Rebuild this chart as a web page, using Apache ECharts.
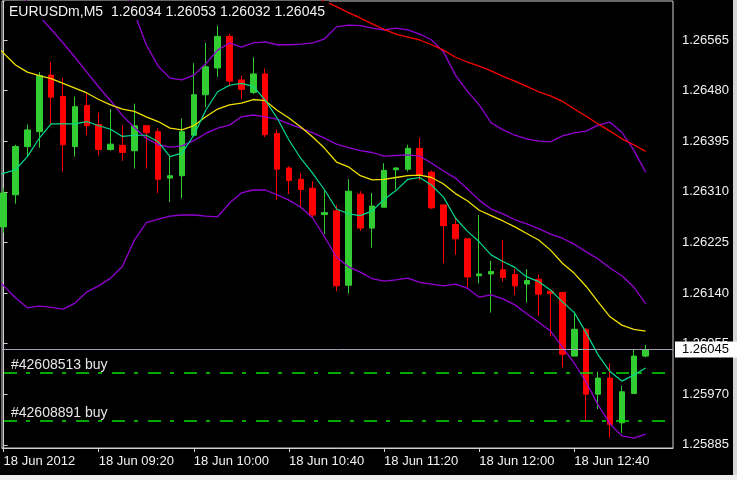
<!DOCTYPE html>
<html><head><meta charset="utf-8">
<script src="https://cdn.jsdelivr.net/npm/echarts@6/dist/echarts.min.js"></script>
<style>html,body{margin:0;padding:0;background:#000}#c{width:737px;height:480px}</style>
</head><body><div id="c"></div>
<script>
const symbolName = 'EURUSDm,M5';
// candles, bar 0 = 18 Jun 08:40, M5
const opens  = [1.26251,1.26305,1.26386,1.26411,1.26506,1.26470,1.26386,1.26455,1.26423,1.26381,1.26388,1.26379,1.26421,1.26411,1.26333,1.26337,1.26405,1.26473,1.26518,1.26571,1.26498,1.26477,1.26508,1.26408,1.26350,1.26331,1.26316,1.26272,1.26278,1.26153,1.26306,1.26249,1.26284,1.26347,1.26348,1.26383,1.26343,1.26288,1.26255,1.26231,1.26169,1.26172,1.26179,1.26171,1.26155,1.26163,1.26143,1.26141,1.26034,1.26079,1.25970,1.25997,1.25922,1.25971,1.26034];
const highs  = [1.26316,1.26389,1.26423,1.26511,1.26528,1.26501,1.26470,1.26475,1.26443,1.26449,1.26421,1.26458,1.26422,1.26417,1.26369,1.26433,1.26526,1.26560,1.26589,1.26575,1.26505,1.26536,1.26517,1.26415,1.26353,1.26341,1.26328,1.26312,1.26288,1.26331,1.26311,1.26308,1.26358,1.26351,1.26389,1.26401,1.26346,1.26288,1.26267,1.26231,1.26271,1.26194,1.26229,1.26180,1.26180,1.26171,1.26143,1.26141,1.26109,1.26081,1.26008,1.26022,1.25984,1.26045,1.26053];
const lows   = [1.26241,1.26290,1.26369,1.26384,1.26422,1.26344,1.26369,1.26405,1.26371,1.26379,1.26362,1.26349,1.26349,1.26308,1.26293,1.26299,1.26402,1.26452,1.26503,1.26487,1.26466,1.26474,1.26402,1.26296,1.26306,1.26284,1.26267,1.26239,1.26143,1.26139,1.26244,1.26216,1.26284,1.26314,1.26344,1.26329,1.26281,1.26190,1.26204,1.26150,1.26156,1.26107,1.26159,1.26137,1.26124,1.26101,1.26067,1.26015,1.26034,1.25925,1.25945,1.25897,1.25905,1.25971,1.26032];
const closes = [1.26308,1.26386,1.26414,1.26505,1.26469,1.26389,1.26453,1.26421,1.26381,1.26390,1.26376,1.26421,1.26409,1.26331,1.26337,1.26411,1.26473,1.26520,1.26571,1.26496,1.26482,1.26508,1.26406,1.26348,1.26329,1.26314,1.26271,1.26275,1.26152,1.26311,1.26249,1.26286,1.26346,1.26350,1.26383,1.26338,1.26283,1.26253,1.26231,1.26167,1.26172,1.26176,1.26166,1.26152,1.26161,1.26138,1.26139,1.26037,1.26079,1.25970,1.25997,1.25919,1.25974,1.26034,1.26045];

// indicator lines; each array starts at the bar given by its *Start constant
const maYellowStart = -1;
const maYellow = [1.26562,1.26543,1.26523,1.26511,1.26505,1.26500,1.26492,1.26484,1.26476,1.26465,1.26456,1.26449,1.26445,1.26436,1.26428,1.26417,1.26414,1.26421,1.26436,1.26449,1.26456,1.26459,1.26465,1.26463,1.26447,1.26434,1.26419,1.26402,1.26383,1.26360,1.26352,1.26337,1.26330,1.26331,1.26334,1.26337,1.26338,1.26334,1.26323,1.26307,1.26295,1.26279,1.26270,1.26261,1.26251,1.26240,1.26229,1.26212,1.26190,1.26173,1.26151,1.26125,1.26100,1.26086,1.26079,1.26076];
const maGreenStart = -1;
const maGreen = [1.26337,1.26341,1.26347,1.26369,1.26400,1.26424,1.26424,1.26424,1.26428,1.26421,1.26415,1.26403,1.26405,1.26405,1.26394,1.26369,1.26375,1.26405,1.26447,1.26478,1.26489,1.26492,1.26487,1.26464,1.26434,1.26397,1.26366,1.26341,1.26313,1.26281,1.26273,1.26270,1.26278,1.26297,1.26312,1.26331,1.26334,1.26321,1.26301,1.26266,1.26244,1.26226,1.26204,1.26193,1.26183,1.26167,1.26159,1.26145,1.26125,1.26107,1.26073,1.26036,1.26008,1.25992,1.26002,1.26014];
const bandAStart = -1;
const bandA = [1.26699,1.26676,1.26652,1.26629,1.26605,1.26583,1.26560,1.26536,1.26511,1.26486,1.26463,1.26438,1.26418,1.26400,1.26389,1.26385,1.26387,1.26396,1.26408,1.26417,1.26422,1.26436,1.26439,1.26436,1.26432,1.26424,1.26417,1.26409,1.26400,1.26390,1.26384,1.26379,1.26376,1.26370,1.26371,1.26372,1.26370,1.26358,1.26345,1.26333,1.26315,1.26296,1.26281,1.26273,1.26263,1.26256,1.26248,1.26239,1.26232,1.26222,1.26209,1.26197,1.26182,1.26169,1.26150,1.26122];
const bandBStart = 10;
const bandB = [1.26666,1.26610,1.26557,1.26521,1.26501,1.26498,1.26506,1.26525,1.26548,1.26560,1.26553,1.26560,1.26562,1.26557,1.26557,1.26558,1.26560,1.26567,1.26587,1.26590,1.26589,1.26585,1.26582,1.26585,1.26582,1.26575,1.26565,1.26545,1.26506,1.26479,1.26456,1.26426,1.26414,1.26405,1.26399,1.26395,1.26394,1.26404,1.26409,1.26412,1.26422,1.26427,1.26410,1.26380,1.26343];
const bandLowStart = -1;
const bandLow = [1.26170,1.26152,1.26132,1.26115,1.26118,1.26116,1.26113,1.26123,1.26142,1.26152,1.26165,1.26185,1.26229,1.26258,1.26264,1.26269,1.26271,1.26271,1.26269,1.26268,1.26291,1.26308,1.26313,1.26313,1.26305,1.26296,1.26284,1.26266,1.26234,1.26200,1.26184,1.26175,1.26164,1.26160,1.26162,1.26165,1.26158,1.26155,1.26152,1.26155,1.26148,1.26133,1.26137,1.26130,1.26120,1.26105,1.26091,1.26076,1.26049,1.26022,1.25990,1.25952,1.25920,1.25900,1.25896,1.25903];
const maRedStart = 25;
const maRed = [1.26649,1.26640,1.26630,1.26621,1.26611,1.26602,1.26592,1.26583,1.26575,1.26570,1.26565,1.26557,1.26548,1.26536,1.26528,1.26521,1.26513,1.26504,1.26496,1.26487,1.26478,1.26471,1.26462,1.26449,1.26437,1.26424,1.26412,1.26399,1.26389,1.26378];

// axes
const priceTicks = [1.25885,1.25970,1.26055,1.26140,1.26225,1.26310,1.26395,1.26480,1.26565];
const timeLabels = ['18 Jun 2012','18 Jun 09:20','18 Jun 10:00','18 Jun 10:40','18 Jun 11:20','18 Jun 12:00','18 Jun 12:40'];
const timeLabelBars = [0,8,16,24,32,40,48];

// open orders
const orderTickets = ['#42608513','#42608891'];
const orderPrices = [1.26006,1.25925];

const FONT = 'Liberation Sans, Arial, sans-serif';
const n = opens.length;
const candleData = opens.map((o,i)=>[i,o,closes[i],lows[i],highs[i]]);
const toPairs = (arr,start)=>arr.map((v,k)=>[start+k,v]);
const last = n-1;
const titleText = symbolName + '  ' + [opens[last],highs[last],lows[last],closes[last]].map(v=>v.toFixed(5)).join(' ');

function lineSeries(name, arr, start, color, width, extra){
  return Object.assign({type:'line', name, data: toPairs(arr,start), showSymbol:false, symbol:'none',
    lineStyle:{color, width}, clip:true, silent:true, animation:false, z:3}, extra||{});
}

const orderLines = {symbol:'none', silent:true, animation:false, precision:5,
  lineStyle:{color:'#00e000', width:1.6, type:[13,9,4,10], dashOffset:34, opacity:1},
  label:{show:true, position:'insideStartTop', color:'#e6e6e6', fontSize:14, fontFamily:FONT, distance:[9,1]},
  data: orderPrices.map((p,k)=>({yAxis:p, label:{formatter:orderTickets[k]+' buy'}}))};

const priceLine = {symbol:'none', silent:true, animation:false, precision:5,
  lineStyle:{color:'#a0a4b4', width:1, type:'solid'},
  label:{show:true, position:'end', backgroundColor:'#ffffff', color:'#000',
    padding:[2,12,1,7], distance:2, fontSize:13, fontFamily:FONT},
  data:[{yAxis:closes[last], label:{formatter:closes[last].toFixed(5)}}]};

const chart = echarts.init(document.getElementById('c'), null, {renderer:'canvas'});
chart.setOption({
  backgroundColor:'#000',
  animation:false,
  title:{text:titleText, left:5, top:1, padding:[3,4,0,4], backgroundColor:'#000',
    textStyle:{color:'#f2f2f2', fontSize:14, fontWeight:'normal', fontFamily:FONT, lineHeight:16}},
  grid:{left:2, right:64, top:1, bottom:32, show:true, borderColor:'#d0d0d0', borderWidth:1, backgroundColor:'#000'},
  xAxis:{type:'value', min:-0.134, max:56.30, position:'bottom',
    axisLine:{show:true, lineStyle:{color:'#d0d0d0'}},
    axisTick:{show:true, length:4, customValues:timeLabelBars, lineStyle:{color:'#d0d0d0'}},
    splitLine:{show:false},
    axisLabel:{customValues:timeLabelBars, formatter:v=>timeLabels[timeLabelBars.indexOf(v)]||'',
      align:'left', color:'#f2f2f2', fontSize:13, fontFamily:FONT, margin:7}},
  yAxis:{type:'value', position:'right', min:1.258796, max:1.266305, scale:true,
    axisLine:{show:true, lineStyle:{color:'#d0d0d0'}},
    axisTick:{show:true, length:4, customValues:priceTicks, lineStyle:{color:'#d0d0d0'}},
    splitLine:{show:false},
    axisLabel:{customValues:priceTicks, formatter:v=>v.toFixed(5), color:'#f2f2f2', fontSize:13, fontFamily:FONT, margin:9}},
  graphic:[
    {type:'rect', left:733, top:0, shape:{width:4, height:475}, style:{fill:'#d4d4d4'}, silent:true},
    {type:'rect', left:0, top:475, shape:{width:737, height:5}, style:{fill:'#eeeeee'}, silent:true}
  ],
  series:[
    {type:'candlestick', data:candleData, encode:{x:0, y:[1,2,3,4]}, barWidth:6, silent:true, z:2,
      itemStyle:{color:'#32cd32', color0:'#ff0000', borderColor:'#32cd32', borderColor0:'#ff0000', borderWidth:1}},
    lineSeries('bandA', bandA, bandAStart, '#9400d3', 1.3),
    lineSeries('bandB', bandB, bandBStart, '#9400d3', 1.3),
    lineSeries('bandLow', bandLow, bandLowStart, '#9400d3', 1.3, {markLine:orderLines}),
    lineSeries('maRed', maRed, maRedStart, '#ff0000', 1.3),
    lineSeries('maYellow', maYellow, maYellowStart, '#f0e000', 1.3, {markLine:priceLine}),
    lineSeries('maGreen', maGreen, maGreenStart, '#00d890', 1.2)
  ]
});
</script></body></html>
